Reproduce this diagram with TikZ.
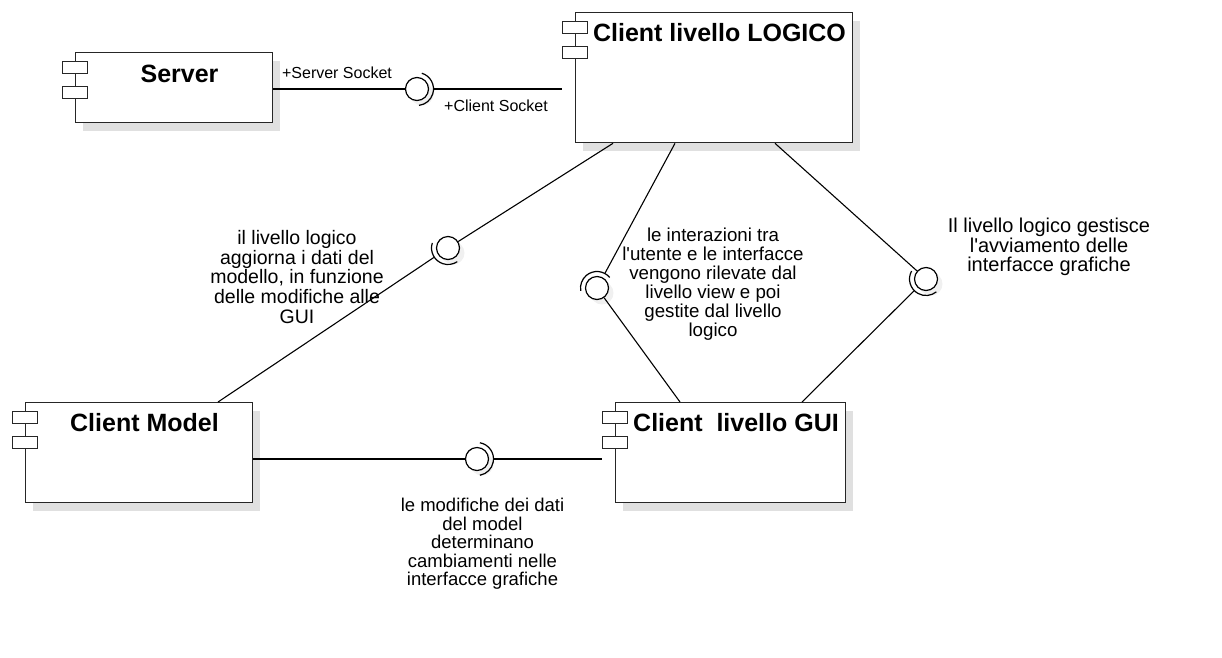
\documentclass[tikz,border=0pt]{standalone}
\usepackage{fontspec}
\setmainfont{Liberation Sans}
\usetikzlibrary{calc,shadows}

\tikzset{
    comp/.style={
        rectangle,
        draw=black!85,
        line width=1.3pt,
        fill=white,
        anchor=north west,
        inner sep=0pt,
        drop shadow={shadow xshift=7pt, shadow yshift=-8pt, fill=black!12, opacity=1}
    },
    port/.style={
        rectangle,
        draw=black!85,
        line width=1.1pt,
        fill=white,
        minimum width=25pt,
        minimum height=12pt,
        inner sep=0pt,
        anchor=north west
    },
    compname/.style={anchor=base, inner sep=0pt, font=\fontsize{25}{30}\selectfont\bfseries},
    ball/.style={circle, draw=black, line width=1.2pt, fill=white, minimum size=23pt, inner sep=0pt,
        drop shadow={shadow xshift=5pt, shadow yshift=-5pt, fill=black!6, opacity=1}},
    socket/.style={draw=black, line width=1.2pt},
    wire/.style={draw=black, line width=1.1pt},
    note/.style={align=center, inner sep=0pt, font=\fontsize{19}{19.4}\selectfont},
    portname/.style={inner sep=0pt, font=\fontsize{16}{19}\selectfont}
}

\begin{document}
\begin{tikzpicture}[x=1pt, y=-1pt]
\useasboundingbox (0,0) rectangle (1222,657);

% ====== COMPONENTS ======
\node[comp, minimum width=197pt, minimum height=70pt] (server) at (75,52) {};
\node[comp, minimum width=277pt, minimum height=130pt] (logico) at (575,12) {};
\node[comp, minimum width=227pt, minimum height=100pt] (model) at (25,402) {};
\node[comp, minimum width=230pt, minimum height=100pt] (gui) at (615,402) {};

% component icons
\foreach \c in {server,logico,model,gui}{
    \node[port] (\c-p1) at ($(\c.north west)+(-13,9)$) {};
    \node[port] (\c-p2) at ($(\c.north west)+(-13,34)$) {};
}

% names
\node[compname] (server-t) at ($(server.north west)+(104.5,30)$) {Server};
\node[compname] (logico-t) at ($(logico.north west)+(144.5,29)$) {Client livello LOGICO};
\node[compname] (model-t) at ($(model.north west)+(119.5,29)$) {Client Model};
\node[compname] (gui-t) at ($(gui.north west)+(121,29)$) {Client\ \ livello GUI};

% ====== INTERFACES ======
\node[ball] (b1) at (417,89) {};
\node[ball] (b2) at (448,248) {};
\node[ball] (b3) at (597,288) {};
\node[ball] (b4) at (926,279) {};
\node[ball] (b5) at (477,459) {};

\draw[socket] (b1) ++(-73:16.5) arc[start angle=-73, end angle=83, radius=16.5];
\draw[socket] (b2) ++(-162:16.5) arc[start angle=-162, end angle=-304, radius=16.5];
\draw[socket] (b3) ++(-40:16.5) arc[start angle=-40, end angle=-190, radius=16.5];
\draw[socket] (b4) ++(-151:16.5) arc[start angle=-151, end angle=-309, radius=16.5];
\draw[socket] (b5) ++(-80:16.5) arc[start angle=-80, end angle=80, radius=16.5];

% ====== WIRES ======
\coordinate (lg1) at ($(logico.south west)+(38,0)$);
\coordinate (lg2) at ($(logico.south west)+(100,0)$);
\coordinate (lg3) at ($(logico.south west)+(200,0)$);
\coordinate (md1) at ($(model.north west)+(193,0)$);
\coordinate (gu1) at ($(gui.north west)+(65,0)$);
\coordinate (gu2) at ($(gui.north west)+(187,0)$);

\draw[wire] (server.east |- b1) -- (b1);
\draw[wire, shorten <=5pt, shorten >=13pt] (b1) -- (logico.west |- b1);
\draw[wire] (lg1) -- (b2);
\draw[wire, shorten >=5pt] (md1) -- (b2);
\draw[wire, shorten >=5pt] (lg2) -- (b3);
\draw[wire] (gu1) -- (b3);
\draw[wire] (lg3) -- (b4);
\draw[wire, shorten >=5pt] (gu2) -- (b4);
\draw[wire] (model.east |- b5) -- (b5);
\draw[wire, shorten <=5pt, shorten >=13pt] (b5) -- (gui.west |- b5);

% ====== LABELS ======
\node[portname] (ss) at (337,73) {+Server Socket};
\node[portname] (cs) at (496,106) {+Client Socket};

\node[note, font=\fontsize{19.5}{19.8}\selectfont] (n1) at (297,277) {il livello logico\\aggiorna i dati del\\modello, in funzione\\delle modifiche alle\\GUI};
\node[note, font=\fontsize{18.7}{18.9}\selectfont] (n2) at (713,284) {le interazioni tra\\l\textquotesingle utente e le interfacce\\vengono rilevate dal\\livello view e poi\\gestite dal livello\\logico};
\node[note, font=\fontsize{20}{19.5}\selectfont] (n3) at (1049,247) {Il livello logico gestisce\\l\textquotesingle avviamento delle\\interfacce grafiche};
\node[note, font=\fontsize{18.5}{18.6}\selectfont] (n4) at (482.5,544) {le modifiche dei dati\\del model\\determinano\\cambiamenti nelle\\interfacce grafiche};

\end{tikzpicture}
\end{document}
